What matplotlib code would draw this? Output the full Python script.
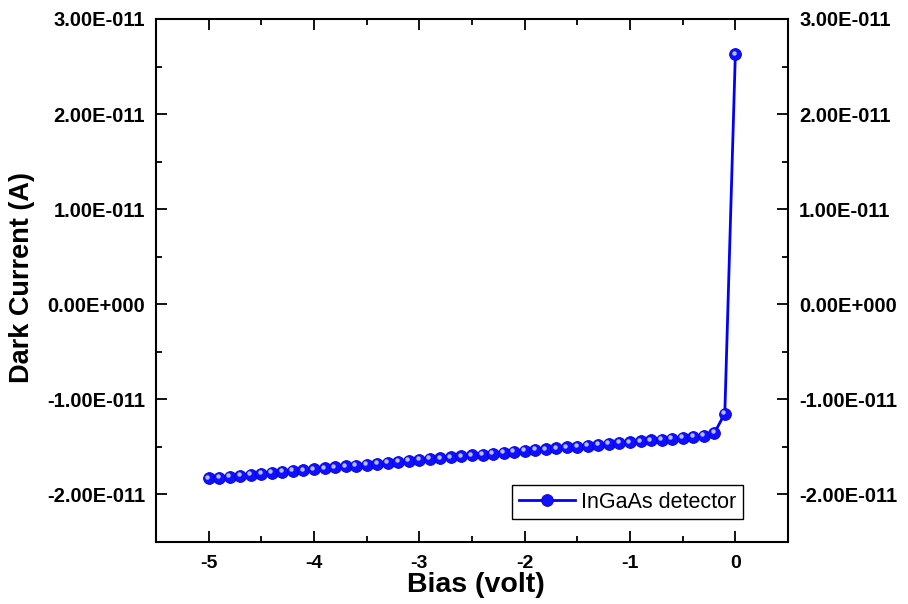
import numpy as np
import matplotlib
matplotlib.use("Agg")
import matplotlib.pyplot as plt
import matplotlib.transforms as mtransforms
from matplotlib.ticker import MultipleLocator, FuncFormatter

# Data (current in units of 1e-11 A)
bias = [-5.0, -4.9, -4.8, -4.7, -4.6, -4.5, -4.4, -4.3, -4.2, -4.1,
        -4.0, -3.9, -3.8, -3.7, -3.6, -3.5, -3.4, -3.3, -3.2, -3.1,
        -3.0, -2.9, -2.8, -2.7, -2.6, -2.5, -2.4, -2.3, -2.2, -2.1,
        -2.0, -1.9, -1.8, -1.7, -1.6, -1.5, -1.4, -1.3, -1.2, -1.1,
        -1.0, -0.9, -0.8, -0.7, -0.6, -0.5, -0.4, -0.3, -0.2, -0.1, 0.0]
current_e11 = [-1.832, -1.822, -1.813, -1.803, -1.793, -1.784, -1.774, -1.764, -1.754, -1.745,
               -1.735, -1.725, -1.716, -1.706, -1.696, -1.687, -1.677, -1.667, -1.657, -1.648,
               -1.638, -1.628, -1.619, -1.609, -1.599, -1.590, -1.580, -1.570, -1.561, -1.552,
               -1.543, -1.533, -1.524, -1.515, -1.506, -1.497, -1.487, -1.478, -1.469, -1.460,
               -1.451, -1.441, -1.432, -1.423, -1.414, -1.404, -1.394, -1.382, -1.355, -1.150, 2.630]
series_label = "InGaAs detector"
x_title = "Bias (volt)"
y_title = "Dark Current (A)"

x = np.array(bias)
y = np.array(current_e11) * 1e-11

plt.rcParams['font.family'] = ['Liberation Sans', 'DejaVu Sans']

W, H = 908, 604
fig = plt.figure(figsize=(W / 100, H / 100), dpi=100)
ax = fig.add_axes([156 / W, 1 - 542 / H, 632 / W, 523 / H])

ax.plot(x, y, color='#0000ff', lw=2, marker='o', ms=8.5,
        markerfacecolor='#1010ff', markeredgecolor='#0000e0', markeredgewidth=0.6,
        label=series_label, zorder=3)
# highlight on the balls
off = mtransforms.offset_copy(ax.transData, fig=fig, x=-1.2, y=1.2, units='points')
ax.plot(x, y, ls='none', marker='o', ms=3.2, markerfacecolor='#b8bcff',
        markeredgecolor='none', transform=off, zorder=4)

ax.set_xlim(-5.5, 0.5)
ax.set_ylim(-2.5e-11, 3.0e-11)

ax.xaxis.set_major_locator(MultipleLocator(1))
ax.xaxis.set_minor_locator(MultipleLocator(0.5))
ax.yaxis.set_major_locator(MultipleLocator(1e-11))
ax.yaxis.set_minor_locator(MultipleLocator(0.5e-11))

def sci(v, pos=None):
    if abs(v) < 1e-20:
        return "0.00E+000"
    e = int(np.floor(np.log10(abs(v)) + 1e-9))
    m = v / 10**e
    return f"{m:.2f}E{e:+04d}"

def xfmt(v, pos=None):
    return f"{v:.0f}" if abs(v) > 1e-9 else "0"

ax.yaxis.set_major_formatter(FuncFormatter(sci))
ax.xaxis.set_major_formatter(FuncFormatter(xfmt))

ax.tick_params(which='both', direction='in', top=True, right=True,
               labelright=True, width=1.3)
ax.tick_params(which='major', length=8)
ax.tick_params(which='minor', length=4)
ax.tick_params(axis='y', which='major', labelsize=14.5, pad=8)
ax.tick_params(axis='x', which='major', labelsize=14, pad=9)
for t in ax.yaxis.get_major_ticks():
    t.label1.set_fontweight('bold')
    t.label2.set_fontweight('bold')
for t in ax.xaxis.get_major_ticks():
    t.label1.set_fontweight('bold')

for s in ax.spines.values():
    s.set_linewidth(1.5)

fig.text(476 / W, 1 - 592 / H, x_title, fontsize=20.5, fontweight='bold',
         ha='center', va='baseline')
fig.text(22 / W, 1 - 277 / H, y_title, fontsize=19.5, fontweight='bold',
         ha='center', va='center', rotation=90)

leg = ax.legend(loc='lower right', bbox_to_anchor=(0.9288, 0.044),
                borderaxespad=0, fancybox=False, edgecolor='black',
                fontsize=15.5, handlelength=2.6, borderpad=0.3,
                handletextpad=0.3, framealpha=1)
leg.get_frame().set_linewidth(1.0)

fig.savefig("out.png", dpi=100)
